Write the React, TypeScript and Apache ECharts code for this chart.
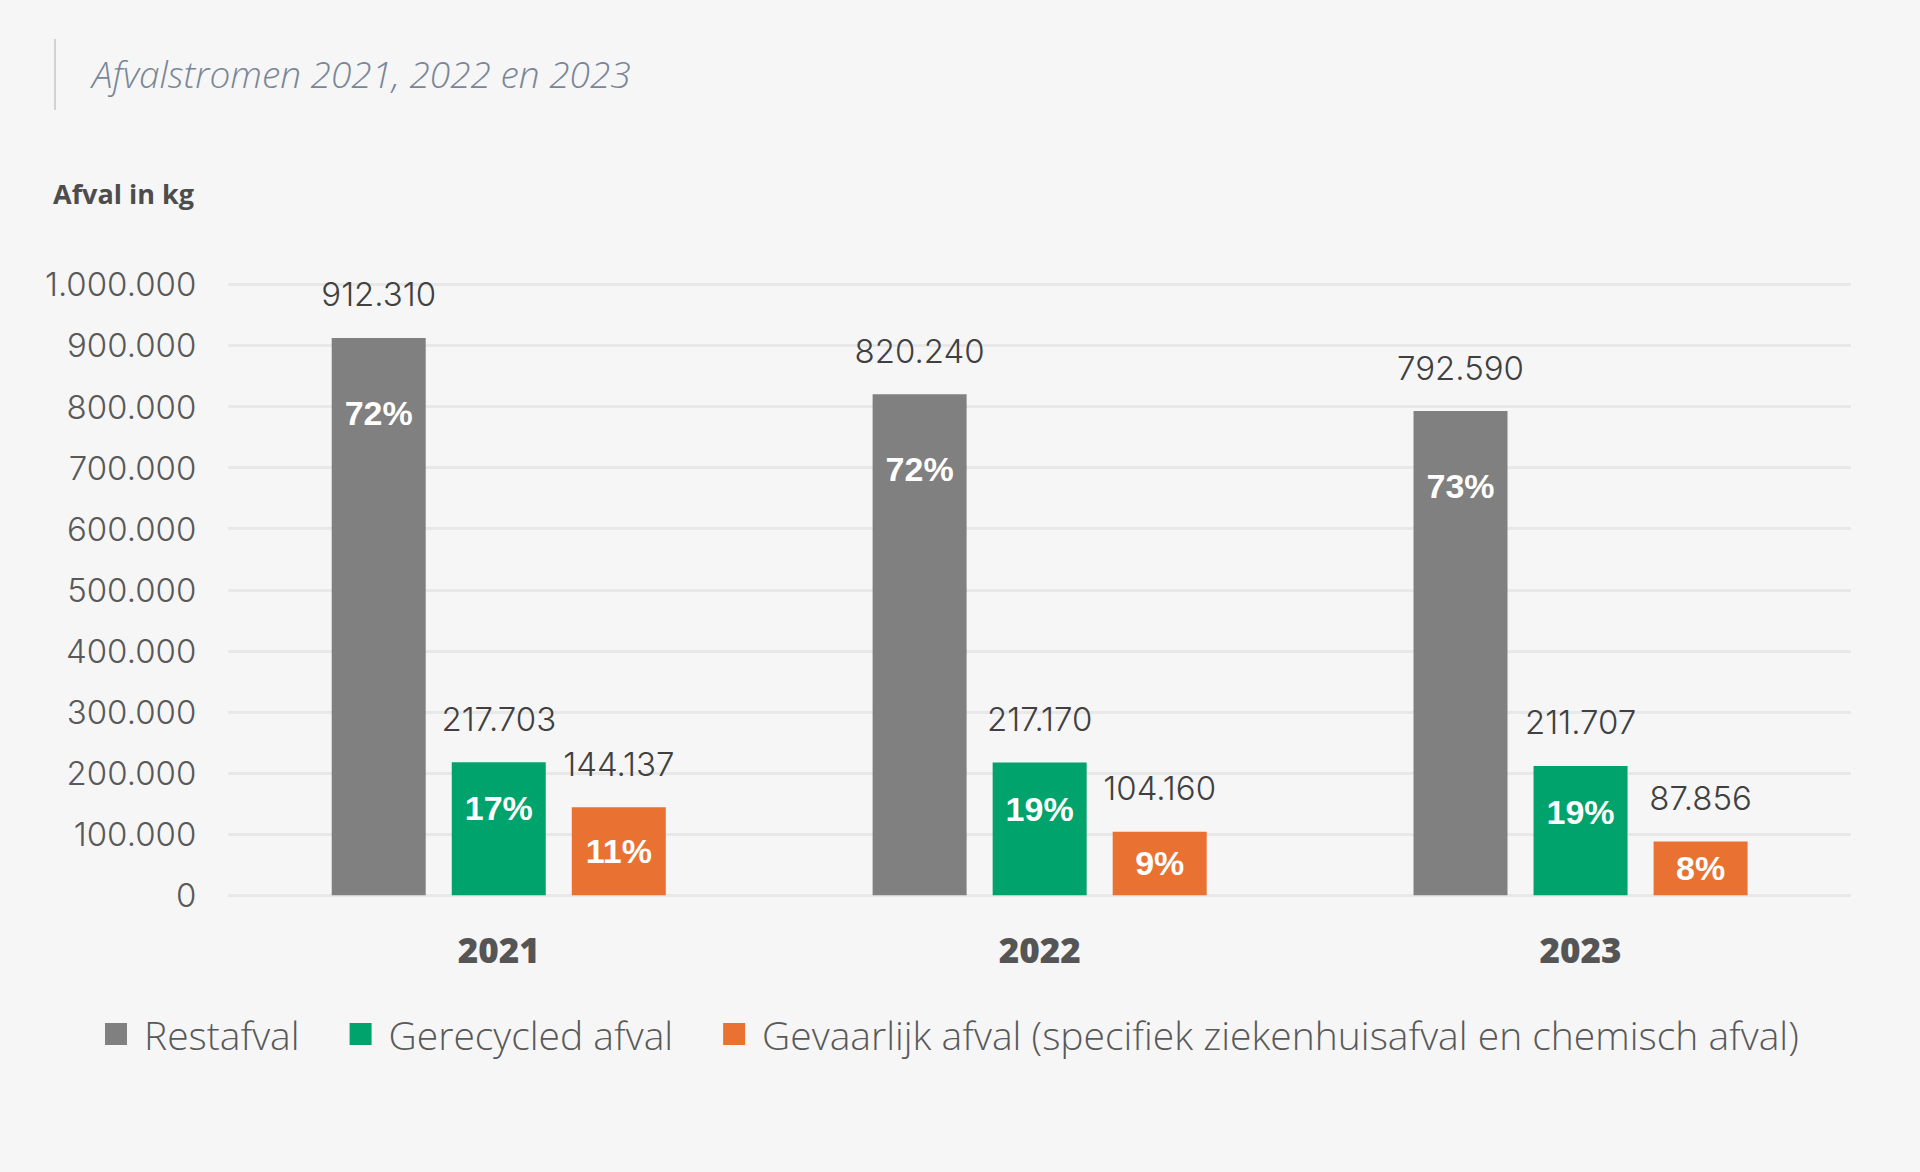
import React, { useEffect, useRef } from 'react';
import * as echarts from 'echarts';

const years = ['2021', '2022', '2023'];
const restafval = [912310, 820240, 792590];
const gerecycled = [217703, 217170, 211707];
const gevaarlijk = [144137, 104160, 87856];
const restPct = [72, 72, 73];
const recPct = [17, 19, 19];
const gevPct = [11, 9, 8];
const seriesNames = [
  'Restafval',
  'Gerecycled afval',
  'Gevaarlijk afval (specifiek ziekenhuisafval en chemisch afval)',
];
const yMin = 0;
const yMax = 1000000;
const yStep = 100000;

const fmt = (v: number) => String(v).replace(/\B(?=(\d{3})+(?!\d))/g, '.');

const NUM_FONT = 'Inter';
const WORD_FONT = "'Open Sans'";

function makeSeries(name: string, values: number[], pcts: number[], color: string, labelPos: any) {
  return {
    type: 'bar',
    name,
    data: values,
    barWidth: 94,
    barGap: '27.7%',
    itemStyle: { color },
    emphasis: { disabled: true },
    label: {
      show: true,
      ...labelPos,
      formatter: (p: any) => pcts[p.dataIndex] + '%',
      color: '#ffffff',
      fontFamily: 'Liberation Sans',
      fontWeight: 'bold',
      fontSize: 34,
    },
    markPoint: {
      symbol: 'rect',
      symbolSize: 1,
      silent: true,
      itemStyle: { color: 'rgba(0,0,0,0)' },
      label: {
        show: true,
        position: 'top',
        distance: 25,
        formatter: (p: any) => fmt(p.value),
        fontFamily: NUM_FONT,
        fontWeight: 300,
        fontSize: 33,
        lineHeight: 36,
        color: '#404040',
      },
      data: values.map((v, i) => ({ coord: [years[i], v], value: v })),
    },
  };
}

export default function App() {
  const ref = useRef<HTMLDivElement>(null);
  useEffect(() => {
    if (!ref.current) return;
    const chart = echarts.init(ref.current, undefined, { renderer: 'svg' });
    chart.setOption({
      animation: false,
      backgroundColor: '#f6f6f6',
      graphic: [
        {
          type: 'line',
          shape: { x1: 55, y1: 39, x2: 55, y2: 110 },
          style: { stroke: '#d2d2d2', lineWidth: 2 },
        },
        {
          type: 'text',
          x: 92,
          y: 73,
          style: {
            text: 'Afvalstromen 2021, 2022 en 2023',
            fontFamily: WORD_FONT,
            fontStyle: 'italic',
            fontWeight: 300,
            fontSize: 37,
            fill: '#7a8697',
            verticalAlign: 'middle',
          },
        },
        {
          type: 'text',
          x: 53,
          y: 193,
          style: {
            text: 'Afval in kg',
            fontFamily: WORD_FONT,
            fontWeight: 700,
            fontSize: 27,
            fill: '#4d4d4d',
            verticalAlign: 'middle',
          },
        },
      ],
      legend: {
        left: 100,
        top: 1007,
        icon: 'rect',
        itemWidth: 22,
        itemHeight: 22,
        itemGap: 50,
        selectedMode: false,
        data: seriesNames,
        textStyle: {
          fontFamily: WORD_FONT,
          fontWeight: 300,
          fontSize: 39,
          lineHeight: 44,
          color: '#595959',
          padding: [0, 0, 0, 12],
        },
      },
      grid: { left: 228.3, right: 69, top: 284.3, bottom: 276.7, containLabel: false },
      xAxis: {
        type: 'category',
        data: years,
        axisLine: { show: false },
        axisTick: { show: false },
        axisLabel: {
          margin: 36,
          fontFamily: WORD_FONT,
          fontWeight: 800,
          fontSize: 35,
          lineHeight: 36,
          color: '#555555',
        },
      },
      yAxis: {
        type: 'value',
        min: yMin,
        max: yMax,
        interval: yStep,
        axisLine: { show: false },
        axisTick: { show: false },
        splitLine: { lineStyle: { color: '#e8e8e8', width: 3 } },
        axisLabel: {
          margin: 32,
          formatter: (v: number) => fmt(v),
          fontFamily: NUM_FONT,
          fontWeight: 300,
          fontSize: 33,
          lineHeight: 36,
          padding: [0, 0, 4, 0],
          color: '#595959',
        },
      },
      series: [
        makeSeries(seriesNames[0], restafval, restPct, '#808080', { position: 'insideTop', distance: 58 }),
        makeSeries(seriesNames[1], gerecycled, recPct, '#00a36b', { position: 'insideTop', distance: 29 }),
        makeSeries(seriesNames[2], gevaarlijk, gevPct, '#e97132', { position: 'inside' }),
      ],
    });
    return () => chart.dispose();
  }, []);
  return (
    <div
      ref={ref}
      style={{ position: 'fixed', left: 0, top: 0, width: 1920, height: 1172 }}
    />
  );
}
